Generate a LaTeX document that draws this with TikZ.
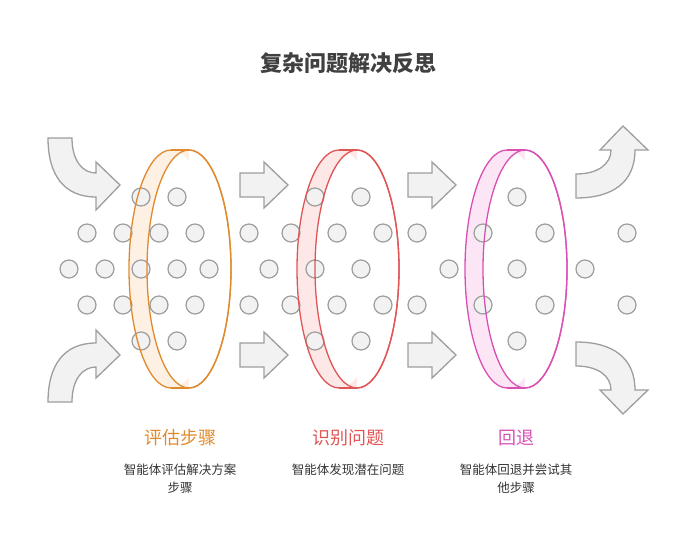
\documentclass[tikz,border=0pt]{standalone}
\usepackage{fontspec}
\setmainfont{Noto Sans CJK SC}
\begin{document}
\begin{tikzpicture}[x=1pt,y=-1pt,
  arr/.style={fill=black!5,draw=black!38,line width=1.3pt,line join=miter},
  dot/.style={circle,minimum size=18pt,inner sep=0pt,fill=black!5,draw=black!38,line width=1.2pt},
  ttl/.style={font=\fontsize{18}{21}\selectfont},
  desc/.style={font=\fontsize{12.5}{18}\selectfont,text=black!80,align=center}]
\definecolor{cO}{HTML}{E08A2E}\definecolor{fO}{HTML}{FEF0E3}
\definecolor{cR}{HTML}{E05555}\definecolor{fR}{HTML}{FDE7E7}
\definecolor{cP}{HTML}{DA4FB4}\definecolor{fP}{HTML}{FCE6F5}
\useasboundingbox (0,0) rectangle (696,559);
\node[font=\bfseries\fontsize{22}{26}\selectfont,text=black!75] (title) at (348,63) {复杂问题解决反思};
% curved arrows
\draw[arr] (48,138)--(72,138) .. controls (72,160) and (82,173) .. (96,173)--(96,162)--(120,185)--(96,210)--(96,197) .. controls (64,197) and (48,175) .. (48,138)--cycle;
\draw[arr] (48,402)--(72,402) .. controls (72,380) and (82,367) .. (96,367)--(96,378)--(120,355)--(96,330)--(96,343) .. controls (64,343) and (48,365) .. (48,402)--cycle;
\draw[arr] (576,198)--(576,174) .. controls (598,174) and (611,164) .. (611,150)--(600,150)--(623,126)--(648,150)--(635,150) .. controls (635,182) and (613,198) .. (576,198)--cycle;
\draw[arr] (576,342)--(576,366) .. controls (598,366) and (611,376) .. (611,390)--(600,390)--(623,414)--(648,390)--(635,390) .. controls (635,358) and (613,342) .. (576,342)--cycle;
% chevrons
\foreach \x in {240,408}{\foreach \y in {185,355}{
\draw[arr] (\x,\y-12)--(\x+24,\y-12)--(\x+24,\y-23)--(\x+48,\y)--(\x+24,\y+23)--(\x+24,\y+12)--(\x,\y+12)--cycle;}}
% ring fills
\foreach \cx/\f in {171/fO,339/fR,507/fP}{
  \fill[\f] (\cx,269) ellipse [x radius=42,y radius=119];
  \fill[\f] (\cx+18,269) ellipse [x radius=42,y radius=119];
  \fill[\f] (\cx,150) rectangle (\cx+18,388);
  \fill[white] (\cx+18,269) ellipse [x radius=42,y radius=119];
  \begin{scope}\clip (\cx+18,269) ellipse [x radius=42,y radius=119];
  \fill[\f] (\cx-50,100) rectangle (\cx+18,440);
  \fill[white] (\cx,269) ellipse [x radius=42,y radius=119];\end{scope}}
% dots
\foreach \x [count=\i] in {141,177,315,361,517}{\node[dot] (t\i) at (\x,197) {}; \node[dot] (b\i) at (\x,341) {};}
\foreach \x [count=\i] in {87,123,159,195,249,291,337,383,417,483,545,627}{\node[dot] (u\i) at (\x,233) {}; \node[dot] (l\i) at (\x,305) {};}
\foreach \x [count=\i] in {69,105,141,177,209,269,315,361,449,517,585}{\node[dot] (m\i) at (\x,269) {};}
% ring outlines
\foreach \cx/\c in {171/cO,339/cR,507/cP}{
  \begin{scope}\clip (\cx-50,100) rectangle (\cx,440);
  \draw[\c,line width=1.3pt] (\cx,269) ellipse [x radius=42,y radius=119];\end{scope}
  \begin{scope}\clip (\cx+18,100) rectangle (\cx+70,440);
  \draw[\c,line width=1.3pt] (\cx+18,269) ellipse [x radius=42,y radius=119];\end{scope}
  \draw[\c,line width=1.3pt] (\cx,150) -- (\cx+18,150) (\cx,388) -- (\cx+18,388);
  \draw[\c,line width=1.3pt] (\cx+18,269) ellipse [x radius=42,y radius=119];}
% labels
\node[ttl,text=cO] (l1) at (180,438) {评估步骤};
\node[ttl,text=cR] (l2) at (348,438) {识别问题};
\node[ttl,text=cP] (l3) at (516,438) {回退};
\node[desc] (d1) at (180,479) {智能体评估解决方案\\步骤};
\node[desc] (d2) at (348,470) {智能体发现潜在问题};
\node[desc] (d3) at (516,479) {智能体回退并尝试其\\他步骤};
\end{tikzpicture}
\end{document}
